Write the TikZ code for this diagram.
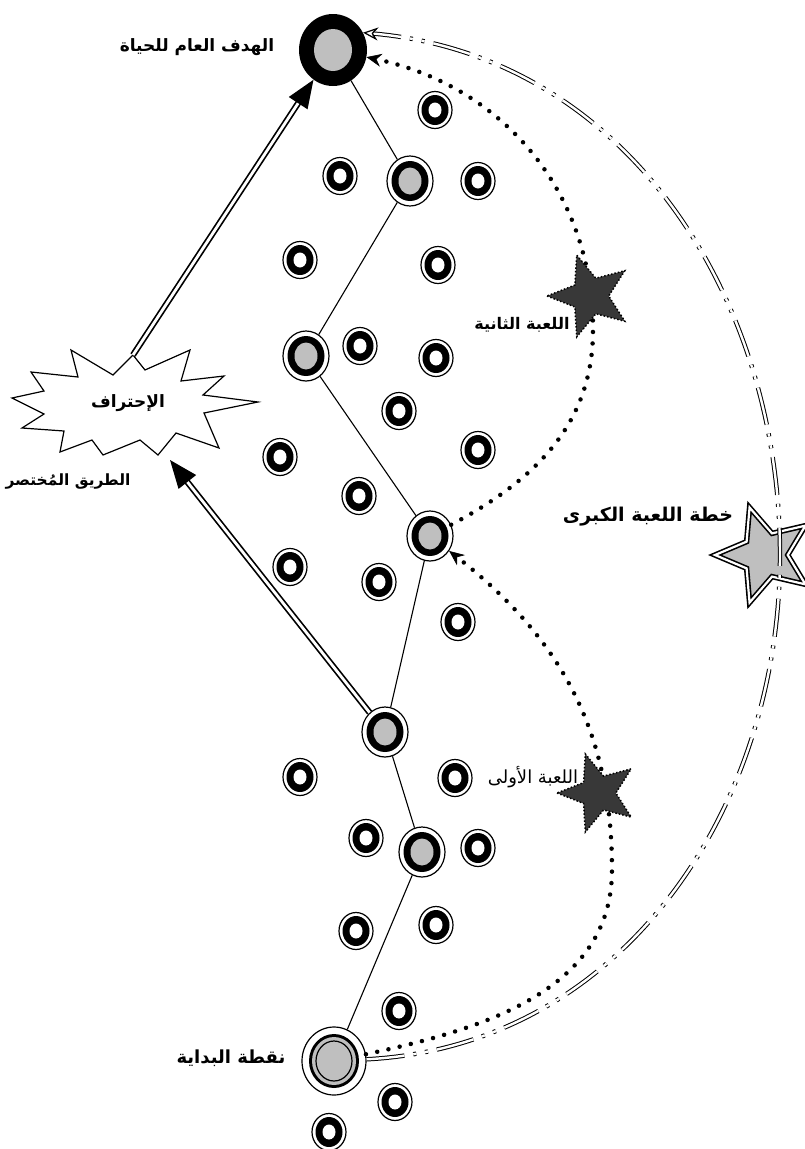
\documentclass[tikz,border=0pt]{standalone}
\usepackage{fontspec}
\usepackage{tikz}
\usetikzlibrary{shapes.geometric,arrows.meta,positioning,calc}
\newfontfamily\arabicfont[Script=Arabic]{DejaVu Sans}
\TeXXeTstate=1

\begin{document}
\begin{tikzpicture}[
    x=1pt, y=1pt,
    ringnode/.style={ellipse, draw, line width=1.2pt, fill=white, inner sep=0pt,
        minimum width=34pt, minimum height=37pt,
        path picture={\fill[black] (path picture bounding box.center) ellipse (13.5pt and 15pt);
            \fill[white] (path picture bounding box.center) ellipse (6.5pt and 7.5pt);}},
    stepnode/.style={ellipse, draw, line width=1.2pt, fill=white, inner sep=0pt,
        minimum width=46pt, minimum height=50pt,
        path picture={\fill[black] (path picture bounding box.center) ellipse (18.5pt and 20pt);
            \fill[gray!50] (path picture bounding box.center) ellipse (11.5pt and 13.5pt);}},
    goalnode/.style={ellipse, fill=black, inner sep=0pt, minimum width=68pt, minimum height=72pt,
        path picture={\fill[gray!50] (path picture bounding box.center) ellipse (19pt and 21pt);}},
    startnode/.style={ellipse, draw, line width=1.2pt, fill=white, inner sep=0pt,
        minimum width=64pt, minimum height=68pt,
        path picture={\fill[black] (path picture bounding box.center) ellipse (25pt and 27pt);
            \fill[gray!50] (path picture bounding box.center) ellipse (22pt and 24pt);
            \draw[line width=1.2pt, fill=gray!50] (path picture bounding box.center) ellipse (18pt and 20pt);}},
    gamestar/.style={star, star points=5, star point ratio=2.3, shape border rotate=90,
        fill=black!78, draw, line width=1.5pt, dotted, inner sep=0pt, minimum size=#1},
    bigstar/.style={star, star points=5, star point ratio=2.2, shape border rotate=90,
        fill=gray!50, draw, line width=1.6pt, double=white, double distance=2.2pt,
        inner sep=0pt, minimum size=100pt},
    burstline/.style={draw, line width=1.2pt, fill=white, line join=miter},
    lbl/.style={font={\arabicfont\bfseries\fontsize{#1}{#1}\selectfont}, inner sep=1pt},
    lbl/.default=17,
    game/.style={line width=4.5pt, line cap=round, dash pattern=on 0pt off 11.5pt,
        -{Stealth[length=15pt, width=13pt, line width=0.6pt]}},
    plan/.style={line width=1pt, double=white, double distance=2.4pt,
        dash pattern=on 38pt off 9pt on 3pt off 9pt on 3pt off 9pt,
        -{Stealth[open, length=15pt, width=13pt, line width=1.2pt]}},
    shortcut/.style={line width=1.7pt, double=white, double distance=2.8pt,
        -{Triangle[length=28pt, width=22pt]}},
]
\useasboundingbox (0,0) rectangle (805,-1149);

% Path milestones
\node[goalnode] (goal) at (333,-50) {};
\node[stepnode] (p1) at (410,-181) {};
\node[stepnode] (p2) at (306,-356) {};
\node[stepnode] (p3) at (430,-536) {};
\node[stepnode] (p4) at (385,-732) {};
\node[stepnode] (p5) at (422,-852) {};
\node[startnode] (start) at (334,-1061) {};

% Scattered small rings
\foreach \px/\py [count=\i] in {435/110, 340/176, 478/181, 300/260, 438/265, 360/346,
    436/358, 399/411, 280/457, 478/450, 359/496, 290/567, 379/582, 458/622,
    300/777, 455/778, 366/838, 478/848, 356/931, 436/925, 399/1011, 395/1102, 329/1132}
    \node[ringnode] (r\i) at (\px,-\py) {};

% Professionalism burst
\draw[burstline] (133,-355) -- (145,-370) -- (190,-350) -- (181,-381) -- (224,-376)
    -- (203,-395) -- (258,-402) -- (204,-413) -- (219,-448) -- (176,-433) -- (158,-455)
    -- (140,-440) -- (103,-455) -- (92,-440) -- (60,-452) -- (64,-431) -- (22,-428)
    -- (44,-414) -- (12,-398) -- (44,-391) -- (31,-372) -- (78,-377) -- (71,-350)
    -- (113,-375) -- cycle;
\node[lbl] (pro) at (128,-403) {\beginR الإحتراف\endR};
\coordinate (protop) at (133,-355);

% Master plan star
\node[bigstar] (master) at (765,-555) {};

% Main path
\draw[line width=1.1pt] (goal) -- (p1) -- (p2) -- (p3) -- (p4) -- (p5) -- (start);

% First and second game
\coordinate (via1) at (612,-870);
\coordinate (via2) at (593,-330);
\coordinate (via3) at (780,-555);
\draw[game] (start) to[out=12, in=-90] (via1) to[out=90, in=-38] (p3);
\draw[game] (p3) to[out=28, in=-90] (via2) to[out=90, in=-12] (goal);
\node[gamestar=82pt] (game1) at (598,-793) {};
\node[gamestar=86pt] (game2) at (590,-296) {};

% Master plan arc
\draw[plan] (start) to[out=3, in=-90] (via3) to[out=90, in=-5] (goal.30);

% Shortcut
\coordinate (shortend) at (170,-460);
\draw[shortcut] (p4) -- (shortend);
\draw[shortcut] (protop) -- (goal);

% Labels
\node[lbl=17] (goallbl) at (197,-47) {\beginR الهدف العام للحياة\endR};
\node[lbl=15.5] (shortlbl) at (68,-482) {\beginR الطريق المُختصر\endR};
\node[lbl=16] (game2lbl) at (522,-325) {\beginR اللعبة الثانية\endR};
\node[lbl=19] (masterlbl) at (648,-517) {\beginR خطة اللعبة الكبرى\endR};
\node[lbl, font={\arabicfont\fontsize{18}{18}\selectfont}] (game1lbl) at (533,-777) {\beginR اللعبة الأولى\endR};
\node[lbl=18] (startlbl) at (231,-1058) {\beginR نقطة البداية\endR};

\end{tikzpicture}
\end{document}
